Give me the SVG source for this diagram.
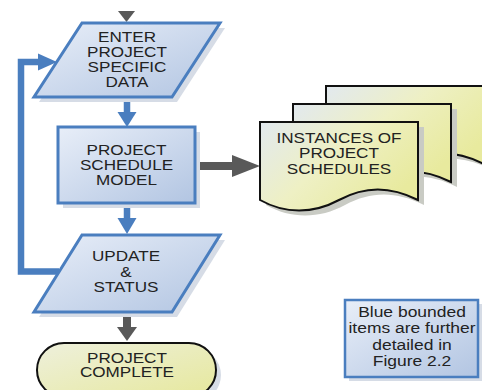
<svg xmlns="http://www.w3.org/2000/svg" width="482" height="390" viewBox="0 0 482 390">
  <defs>
    <linearGradient id="blueFill" x1="0" y1="0" x2="1" y2="1">
      <stop offset="0" stop-color="#e8eef8"/>
      <stop offset="1" stop-color="#b2c5e2"/>
    </linearGradient>
    <linearGradient id="docFill" x1="0" y1="0" x2="1" y2="0.6">
      <stop offset="0" stop-color="#e2e9ef"/>
      <stop offset="0.5" stop-color="#eef0c4"/>
      <stop offset="1" stop-color="#e8ea9e"/>
    </linearGradient>
    <linearGradient id="termFill" x1="0" y1="0" x2="1" y2="1">
      <stop offset="0" stop-color="#eef0dc"/>
      <stop offset="1" stop-color="#e6e89c"/>
    </linearGradient>
    <path id="doc" d="M0,0 H158 V78 C130,64 105,64 79,78 S25,92 0,78 Z"/>
    <style>
      .blue { fill: url(#blueFill); stroke: #4a7ebf; stroke-width: 3; stroke-linejoin: miter; }
      .shadow { fill: #d6dce6; }
      .docShadow { fill: #c9cbc4; }
      .docBody { fill: url(#docFill); stroke: #111; stroke-width: 2; }
      .term { fill: url(#termFill); stroke: #111; stroke-width: 2; }
      .label { font-family: "Liberation Sans", Arial, sans-serif; font-size: 14.5px; fill: #222; text-anchor: middle; }
      .note { font-family: "Liberation Sans", Arial, sans-serif; font-size: 14.8px; fill: #222; text-anchor: middle; }
      .blueLine { fill: none; stroke: #4a7ebf; stroke-width: 6.5; stroke-linejoin: miter; }
      .blueHead { fill: #4a7ebf; }
      .greyLine { fill: none; stroke: #595959; stroke-width: 8; }
      .greyHead { fill: #595959; }
    </style>
  </defs>
  <rect width="482" height="390" fill="#ffffff"/>

  <!-- connectors -->
  <g id="connectors">
    <!-- incoming arrow at the top -->
    <polygon class="greyHead" points="118,11 135,11 126.5,22"/>
    <!-- enter data -> schedule model -->
    <line class="blueLine" x1="127" y1="97" x2="127" y2="113"/>
    <polygon class="blueHead" points="117.5,112 136.5,112 127,127"/>
    <!-- schedule model -> update -->
    <line class="blueLine" x1="127" y1="203" x2="127" y2="219"/>
    <polygon class="blueHead" points="117.5,218 136.5,218 127,234"/>
    <!-- feedback loop: update -> enter data -->
    <polyline class="blueLine" points="59,271.5 21,271.5 21,62 40,62"/>
    <polygon class="blueHead" points="38,53.5 57,62 38,70.5"/>
    <!-- schedule model -> instances -->
    <line class="greyLine" x1="196" y1="166" x2="234" y2="166"/>
    <polygon class="greyHead" points="232,155 260,166 232,177"/>
    <!-- update -> complete -->
    <line class="greyLine" x1="127" y1="313" x2="127" y2="328"/>
    <polygon class="greyHead" points="117,327 137,327 127,341"/>
  </g>

  <g id="enter-data">
    <polygon class="shadow" points="87,28 225,28 177,102 39,102"/>
    <polygon class="blue" points="82,23 220,23 172,97 34,97"/>
    <g class="label" transform="translate(127,0) scale(1.18,1)">
      <text x="0" y="42">ENTER</text>
      <text x="0" y="57">PROJECT</text>
      <text x="0" y="72">SPECIFIC</text>
      <text x="0" y="87.5">DATA</text>
    </g>
  </g>

  <g id="schedule-model">
    <rect class="shadow" x="63" y="132" width="137" height="76"/>
    <rect class="blue" x="58" y="127" width="137" height="76"/>
    <g class="label" transform="translate(126.5,0) scale(1.18,1)">
      <text x="0" y="155">PROJECT</text>
      <text x="0" y="170">SCHEDULE</text>
      <text x="0" y="185">MODEL</text>
    </g>
  </g>

  <g id="update-status">
    <polygon class="shadow" points="87,240 225,240 177,317 39,317"/>
    <polygon class="blue" points="82,235 220,235 172,312 34,312"/>
    <g class="label" transform="translate(126,0) scale(1.18,1)">
      <text x="0" y="261.5">UPDATE</text>
      <text x="0" y="277">&amp;</text>
      <text x="0" y="292.5">STATUS</text>
    </g>
  </g>

  <g id="project-complete">
    <rect class="shadow" x="42" y="348" width="179" height="54" rx="27"/>
    <rect class="term" x="37" y="343" width="179" height="54" rx="27"/>
    <g class="label" transform="translate(127,0) scale(1.18,1)">
      <text x="0" y="363.5">PROJECT</text>
      <text x="0" y="377.5">COMPLETE</text>
    </g>
  </g>

  <g id="schedule-instances">
    <!-- back sheet -->
    <use href="#doc" class="docShadow" transform="translate(332,91)"/>
    <use href="#doc" class="docBody" transform="translate(326,86)"/>
    <!-- middle sheet -->
    <use href="#doc" class="docShadow" transform="translate(299,109)"/>
    <use href="#doc" class="docBody" transform="translate(293,104)"/>
    <!-- front sheet -->
    <use href="#doc" class="docShadow" transform="translate(266,127)"/>
    <use href="#doc" class="docBody" transform="translate(260,122)"/>
    <g class="label" transform="translate(339,0) scale(1.18,1)">
      <text x="0" y="143">INSTANCES OF</text>
      <text x="0" y="158.5">PROJECT</text>
      <text x="0" y="174">SCHEDULES</text>
    </g>
  </g>

  <g id="note">
    <rect class="shadow" x="349" y="304" width="133" height="77"/>
    <rect class="blue" x="345" y="300" width="133" height="77" style="stroke-width:2.5"/>
    <g class="note" transform="translate(412,0) scale(1.18,1)">
      <text x="0" y="317">Blue bounded</text>
      <text x="0" y="333.5">items are further</text>
      <text x="0" y="350">detailed in</text>
      <text x="0" y="366">Figure 2.2</text>
    </g>
  </g>
</svg>
